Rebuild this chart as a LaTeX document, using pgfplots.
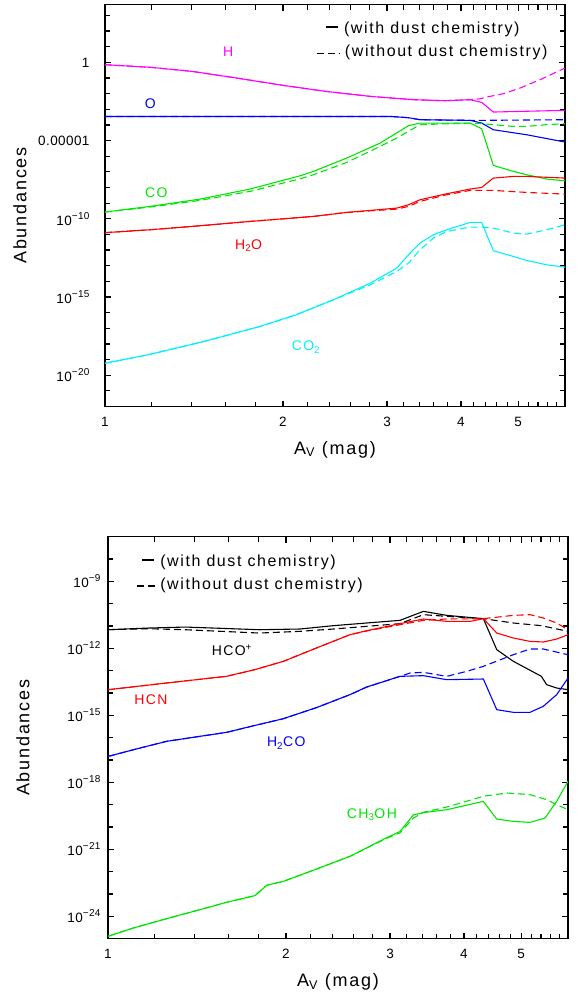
\documentclass[border=0pt]{standalone}
\usepackage{fontspec}
\setmainfont{Liberation Sans}[LetterSpace=10]
\newfontfamily\tickfont{Liberation Sans}[LetterSpace=3]
\usepackage{pgfplots}
\pgfplotsset{compat=1.18}
\definecolor{cMag}{RGB}{255,0,255}
\definecolor{cBlue}{RGB}{0,0,255}
\definecolor{cGreen}{RGB}{0,230,0}
\definecolor{cRed}{RGB}{255,0,0}
\definecolor{cCyan}{RGB}{0,240,255}
\newcommand{\mi}{−}
\newcommand{\ex}[1]{10\raisebox{0.42em}{\fontsize{10}{11}\selectfont #1}}
\tikzset{dsh/.style={dash pattern=on 7pt off 4pt}}
\pgfplotsset{every axis plot/.append style={line width=1.1pt}}
\begin{document}
\begin{tikzpicture}
\path[use as bounding box] (0,0) rectangle (581pt,-993pt);
% ---------------- top panel ----------------
\begin{axis}[xmode=log, ymode=log, at={(105pt,-4.5pt)}, anchor=north west,
  scale only axis, width=460pt, height=402pt,
  xmin=1, xmax=6, ymin=1e-22, ymax=5e3,
  axis lines=box,
  axis line style={black, line width=1.1pt},
  tick style={black, line width=1.2pt},
  major tick length=6pt, minor tick length=5pt,
  tick align=inside, xtick pos=both, ytick pos=both,
  xtick={1,2,3,4,5}, xticklabels={1,2,3,4,5},
  minor xtick={1.2,1.4,1.6,1.8,2.2,2.4,2.6,2.8,3.2,3.4,3.6,3.8,4.2,4.4,4.6,4.8,5.2,5.4,5.6,5.8},
  tick label style={font=\tickfont\fontsize{13.5}{15}\selectfont},
  xticklabel style={yshift=-7pt},
  yticklabel style={xshift=-12pt},
  label style={font=\fontsize{18}{21}\selectfont},
  xlabel={A\textsubscript{V} (mag)}, ylabel={Abundances},
  xlabel style={at={(axis description cs:0.5,-0.107)}, anchor=center},
  ylabel style={at={(axis description cs:-0.185,0.5)}, anchor=center},
  ytick={1e-20,1e-15,1e-10,1e-5,1},
  yticklabels={\ex{\mi20},\ex{\mi15},\ex{\mi10},0.00001\hspace{3pt},1\hspace{-6pt}},
  minor ytick={1e-21,1e-19,1e-18,1e-17,1e-16,1e-14,1e-13,1e-12,1e-11,1e-9,1e-8,1e-7,1e-6,1e-4,1e-3,1e-2,1e-1,10,100,1000},
]
% H
\addplot[cMag] coordinates {(1.000,0.71)(1.198,0.479)(1.404,0.265)(1.671,0.0995)(2.001,0.0338)(2.363,0.014)(2.811,6.68e-3)(2.999,5.5e-3)(3.343,4.09e-3)(3.752,3.53e-3)(4.145,4.11e-3)(4.337,2.78e-3)(4.539,6.68e-4)(6.000,8.55e-4)};
\addplot[cMag,dsh] coordinates {(1.000,0.71)(1.198,0.479)(1.404,0.265)(1.671,0.0995)(2.001,0.0338)(2.363,0.014)(2.811,6.68e-3)(2.999,5.5e-3)(3.343,4.09e-3)(3.752,3.53e-3)(4.145,4.11e-3)(4.309,4.7e-3)(4.423,6.07e-3)(4.718,9.9e-3)(5.036,2.28e-2)(5.444,7.78e-2)(6.000,0.435)};
% O
\addplot[cBlue] coordinates {(1.000,3.45e-4)(3.054,3.45e-4)(3.261,2.9e-4)(3.411,2.16e-4)(4.145,1.96e-4)(4.337,1.32e-4)(4.539,4.93e-5)(5.168,2.36e-5)(6.000,8.05e-6)};
\addplot[cBlue,dsh] coordinates {(1.000,3.45e-4)(3.054,3.45e-4)(3.261,2.9e-4)(3.411,2.16e-4)(4.145,1.96e-4)(4.337,1.96e-4)(6.000,2.16e-4)};
% CO
\addplot[cGreen] coordinates {(1.000,2.69e-10)(1.191,6.18e-10)(1.448,1.82e-9)(1.759,7.94e-9)(2.138,5.6e-8)(2.252,1.07e-7)(2.564,7.62e-7)(2.920,6.92e-6)(3.261,8.89e-5)(3.411,1.32e-4)(4.145,1.32e-4)(4.337,5.71e-5)(4.539,2.59e-7)(4.907,1.07e-7)(5.168,6.56e-8)(5.587,3.46e-8)(6.000,2.70e-8)};
\addplot[cGreen,dsh] coordinates {(1.000,2.69e-10)(1.191,5.6e-10)(1.448,1.5e-9)(1.759,5.64e-9)(2.138,3.6e-8)(2.252,6.56e-8)(2.564,4.04e-7)(2.920,4.25e-6)(3.115,1.45e-5)(3.411,1.04e-4)(4.145,1.32e-4)(4.337,1.20e-4)(4.907,8.09e-5)(5.168,8.09e-5)(5.587,1.04e-4)(6.000,1.20e-4)};
% H2O
\addplot[cRed] coordinates {(1.000,1.3e-11)(1.191,1.99e-11)(1.448,3.58e-11)(1.759,6.78e-11)(2.252,1.42e-10)(2.564,2.55e-10)(3.115,4.83e-10)(3.261,7.91e-10)(3.411,1.65e-9)(3.784,3.99e-9)(4.145,7.94e-9)(4.337,1.01e-8)(4.539,4.01e-8)(4.907,5.13e-8)(5.168,5.13e-8)(6.000,4.01e-8)};
\addplot[cRed,dsh] coordinates {(1.000,1.3e-11)(1.191,1.99e-11)(1.448,3.58e-11)(1.759,6.78e-11)(2.252,1.42e-10)(2.564,2.55e-10)(3.115,4.17e-10)(3.261,6.18e-10)(3.411,1.29e-9)(3.784,3.44e-9)(4.145,6.52e-9)(4.539,6.52e-9)(5.168,4.85e-9)(6.000,3.80e-9)};
% CO2
\addplot[cCyan] coordinates {(1.000,5.86e-20)(1.181,2.00e-19)(1.467,1.41e-18)(1.822,1.26e-17)(2.105,7.23e-17)(2.432,6.59e-16)(2.811,7.67e-15)(3.115,7.02e-14)(3.261,5.00e-13)(3.411,2.79e-12)(3.593,9.51e-12)(3.784,1.99e-11)(4.145,5.85e-11)(4.337,5.85e-11)(4.539,9.02e-13)(4.907,3.92e-13)(5.168,2.17e-13)(5.587,1.15e-13)(6.000,8.13e-14)};
\addplot[cCyan,dsh] coordinates {(1.000,5.86e-20)(1.181,2.00e-19)(1.467,1.41e-18)(1.822,1.26e-17)(2.105,7.23e-17)(2.432,6.59e-16)(2.811,6.00e-15)(3.115,4.30e-14)(3.261,1.47e-13)(3.411,1.05e-12)(3.593,5.82e-12)(3.784,1.55e-11)(4.145,2.94e-11)(4.337,2.94e-11)(4.539,2.54e-11)(4.907,1.22e-11)(5.168,1.05e-11)(5.587,1.99e-11)(6.000,4.15e-11)};
% labels
\node[cMag, font=\fontsize{14}{17}\selectfont] at (axis cs:1.616,4.58) {H};
\node[cBlue, font=\fontsize{14}{17}\selectfont] at (axis cs:1.193,2.27e-3) {O};
\node[cGreen, font=\fontsize{14}{17}\selectfont] at (axis cs:1.221,4.39e-9) {CO};
\node[cRed, font=\fontsize{14}{17}\selectfont] at (axis cs:1.750,1.97e-12) {H\textsubscript{2}O};
\node[cCyan, font=\fontsize{14}{17}\selectfont] at (axis cs:2.188,6.2e-19) {CO\textsubscript{2}};
% legend
\draw[black, line width=1.1pt] (axis description cs:0.480,0.944) -- (axis description cs:0.506,0.944);
\draw[black, line width=1.1pt, dsh] (axis description cs:0.460,0.879) -- (axis description cs:0.511,0.879);
\node[anchor=west, font=\fontsize{16}{19}\selectfont] at (axis description cs:0.512,0.937) {(with dust chemistry)};
\node[anchor=west, font=\fontsize{16}{19}\selectfont] at (axis description cs:0.514,0.881) {(without dust chemistry)};
\end{axis}
% ---------------- bottom panel ----------------
\begin{axis}[xmode=log, ymode=log, at={(108pt,-536.7pt)}, anchor=north west,
  scale only axis, width=460pt, height=402pt,
  xmin=1, xmax=6, ymin=1e-25, ymax=1e-7,
  axis lines=box,
  axis line style={black, line width=1.1pt},
  tick style={black, line width=1.2pt},
  major tick length=6pt, minor tick length=5pt,
  tick align=inside, xtick pos=both, ytick pos=both,
  xtick={1,2,3,4,5}, xticklabels={1,2,3,4,5},
  minor xtick={1.2,1.4,1.6,1.8,2.2,2.4,2.6,2.8,3.2,3.4,3.6,3.8,4.2,4.4,4.6,4.8,5.2,5.4,5.6,5.8},
  tick label style={font=\tickfont\fontsize{13.5}{15}\selectfont},
  xticklabel style={yshift=-7pt},
  yticklabel style={xshift=-4pt},
  label style={font=\fontsize{18}{21}\selectfont},
  xlabel={A\textsubscript{V} (mag)}, ylabel={Abundances},
  xlabel style={at={(axis description cs:0.5,-0.107)}, anchor=center},
  ylabel style={at={(axis description cs:-0.185,0.5)}, anchor=center},
  ytick={1e-24,1e-21,1e-18,1e-15,1e-12,1e-9},
  yticklabels={\ex{\mi24},\ex{\mi21},\ex{\mi18},\ex{\mi15},\ex{\mi12},\ex{\mi9}},
  minor ytick={1e-23,1e-22,1e-20,1e-19,1e-17,1e-16,1e-14,1e-13,1e-11,1e-10,1e-8},
]
% HCO+
\addplot[black] coordinates {(1.000,6.85e-12)(1.169,8.13e-12)(1.350,9.02e-12)(1.561,7.87e-12)(1.803,6.85e-12)(2.112,7.36e-12)(2.406,1.04e-11)(2.739,1.37e-11)(3.119,1.80e-11)(3.416,4.55e-11)(3.741,3.01e-11)(4.315,2.14e-11)(4.546,8.75e-13)(4.850,2.63e-13)(5.409,5.60e-14)(5.521,2.37e-14)(5.741,1.68e-14)(6.000,1.42e-14)};
\addplot[black,dsh] coordinates {(1.000,6.85e-12)(1.169,7.60e-12)(1.350,6.85e-12)(1.561,5.77e-12)(1.803,4.86e-12)(2.112,5.8e-12)(2.406,7.36e-12)(2.739,9.70e-12)(3.119,1.28e-11)(3.416,3.23e-11)(3.741,2.72e-11)(4.315,2.14e-11)(4.850,1.37e-11)(5.409,1.04e-11)(6.000,5.79e-12)};
% HCN
\addplot[cRed] coordinates {(1.000,1.41e-14)(1.257,2.82e-14)(1.587,5.62e-14)(1.773,1.12e-13)(1.980,2.63e-13)(2.254,1.05e-12)(2.567,4.1e-12)(2.739,6.2e-12)(3.119,1.28e-11)(3.416,2.07e-11)(3.741,1.62e-11)(4.097,1.62e-11)(4.315,2.14e-11)(4.546,4.87e-12)(4.850,2.91e-12)(5.175,2.06e-12)(5.450,1.93e-12)(5.741,2.62e-12)(6.000,4.10e-12)};
\addplot[cRed,dsh] coordinates {(1.000,1.41e-14)(1.257,2.82e-14)(1.587,5.62e-14)(1.773,1.12e-13)(1.980,2.63e-13)(2.254,1.05e-12)(2.567,4.1e-12)(2.739,6.0e-12)(3.119,1.15e-11)(3.416,1.80e-11)(3.741,2.07e-11)(4.315,2.14e-11)(4.850,3.01e-11)(5.175,3.23e-11)(5.450,2.29e-11)(5.741,1.37e-11)(6.000,6.87e-12)};
% H2CO
\addplot[cBlue] coordinates {(1.000,1.45e-17)(1.104,2.9e-17)(1.257,6.9e-17)(1.587,1.74e-16)(1.773,3.55e-16)(1.980,7.1e-16)(2.254,2.24e-15)(2.567,8.5e-15)(2.739,1.86e-14)(3.119,5.60e-14)(3.416,6.00e-14)(3.741,3.97e-14)(4.315,4.25e-14)(4.546,1.80e-15)(4.850,1.37e-15)(5.175,1.37e-15)(5.450,2.55e-15)(5.741,8.47e-15)(6.000,4.71e-14)};
\addplot[cBlue,dsh] coordinates {(1.000,1.45e-17)(1.104,2.9e-17)(1.257,6.9e-17)(1.587,1.74e-16)(1.773,3.55e-16)(1.980,7.1e-16)(2.254,2.24e-15)(2.567,8.5e-15)(2.739,1.86e-14)(3.119,5.60e-14)(3.243,7.87e-14)(3.416,8.45e-14)(3.741,5.60e-14)(4.045,9.37e-14)(4.315,1.57e-13)(4.850,5.22e-13)(5.175,9.37e-13)(5.450,9.37e-13)(6.000,5.22e-13)};
% CH3OH
\addplot[cGreen] coordinates {(1.000,1.29e-25)(1.104,3.02e-25)(1.257,7.94e-25)(1.431,2.0e-24)(1.587,4.27e-24)(1.773,8.5e-24)(1.855,2.46e-23)(1.980,3.7e-23)(2.254,1.32e-22)(2.567,4.9e-22)(2.950,3.2e-21)(3.119,6.3e-21)(3.285,3.5e-20)(3.416,4.4e-20)(3.741,5.97e-20)(4.315,1.41e-19)(4.546,2.28e-20)(4.850,1.79e-20)(5.175,1.62e-20)(5.486,2.53e-20)(5.741,1.41e-19)(6.000,1.11e-18)};
\addplot[cGreen,dsh] coordinates {(1.000,1.29e-25)(1.104,3.02e-25)(1.257,7.94e-25)(1.431,2.0e-24)(1.587,4.27e-24)(1.773,8.5e-24)(1.855,2.46e-23)(1.980,3.7e-23)(2.254,1.32e-22)(2.567,4.9e-22)(2.950,3.0e-21)(3.119,5.5e-21)(3.285,2.5e-20)(3.416,4.6e-20)(3.741,7.88e-20)(4.315,2.38e-19)(4.726,3.35e-19)(5.175,2.82e-19)(5.521,1.69e-19)(5.741,1.01e-19)(6.000,6.01e-20)};
% labels
\node[black, font=\fontsize{14}{17}\selectfont] at (axis cs:1.620,8.1e-13) {HCO\textsuperscript{+}};
\node[cRed, font=\fontsize{14}{17}\selectfont] at (axis cs:1.182,5.0e-15) {HCN};
\node[cBlue, font=\fontsize{14}{17}\selectfont] at (axis cs:2.003,5.7e-17) {H\textsubscript{2}CO};
\node[cGreen, font=\fontsize{14}{17}\selectfont] at (axis cs:2.795,3.7e-20) {CH\textsubscript{3}OH};
% legend
\draw[black, line width=1.6pt] (axis description cs:0.075,0.942) -- (axis description cs:0.099,0.942);
\draw[black, line width=1.6pt, dsh] (axis description cs:0.064,0.877) -- (axis description cs:0.110,0.877);
\node[anchor=west, font=\fontsize{16}{19}\selectfont] at (axis description cs:0.106,0.936) {(with dust chemistry)};
\node[anchor=west, font=\fontsize{16}{19}\selectfont] at (axis description cs:0.106,0.880) {(without dust chemistry)};
\end{axis}
\end{tikzpicture}
\end{document}
